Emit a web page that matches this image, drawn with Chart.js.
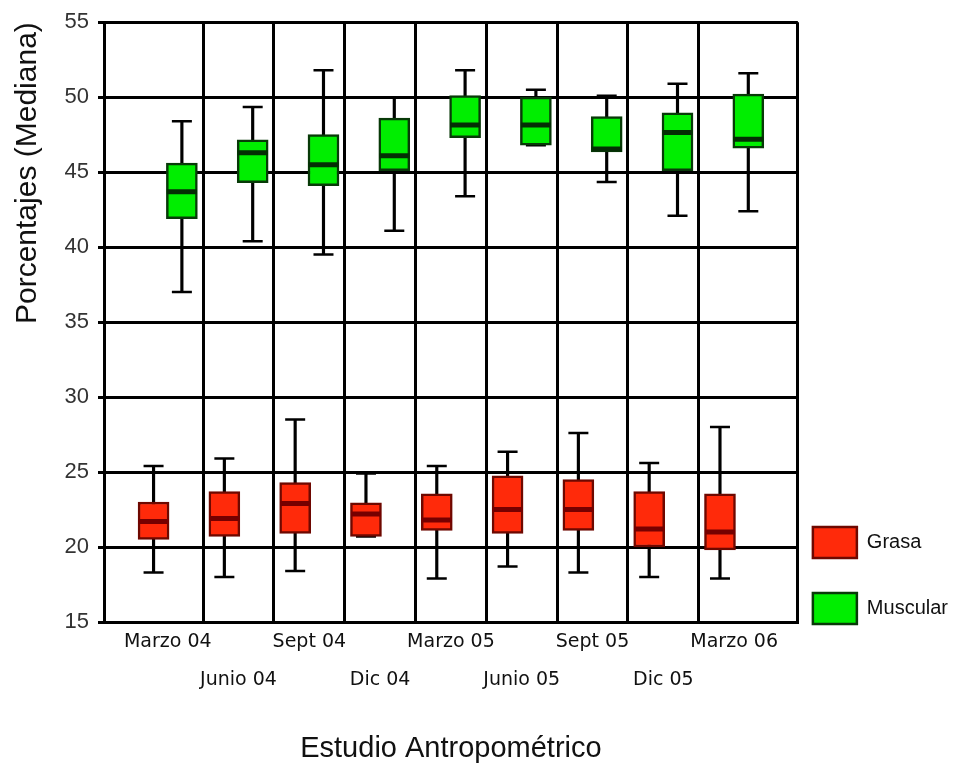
<!DOCTYPE html>
<html>
<head>
<meta charset="utf-8">
<script src="https://cdn.jsdelivr.net/npm/chart.js@4"></script>
<style>
  html, body { margin: 0; padding: 0; background: #ffffff; }
  canvas { display: block; }
</style>
</head>
<body>
<canvas id="chart" width="958" height="766"></canvas>
<script>
// Survey dates (one box pair per date)
const categories = ['Marzo 04', 'Junio 04', 'Sept 04', 'Dic 04', 'Marzo 05', 'Junio 05', 'Sept 05', 'Dic 05', 'Marzo 06'];
const yTickValues = [15, 20, 25, 30, 35, 40, 45, 50, 55];
const seriesNames = ['Grasa', 'Muscular'];

// Grasa (%): whisker ends, quartiles and median
const grasaMin = [18.3, 18.0, 18.4, 20.7, 17.9, 18.7, 18.3, 18.0, 17.9];
const grasaQ1  = [20.5, 20.7, 20.9, 20.7, 21.1, 20.9, 21.1, 20.0, 19.8];
const grasaMed = [21.7, 21.9, 22.9, 22.2, 21.8, 22.5, 22.5, 21.2, 21.0];
const grasaQ3  = [23.0, 23.7, 24.3, 22.95, 23.55, 24.75, 24.5, 23.7, 23.55];
const grasaMax = [25.4, 25.9, 28.5, 24.9, 25.4, 26.35, 27.6, 25.6, 28.0];

// Muscular (%): whisker ends, quartiles and median
const muscMin = [37.0, 40.4, 39.5, 41.1, 43.4, 46.8, 44.35, 42.1, 42.4];
const muscQ1  = [41.9, 44.3, 44.1, 45.1, 47.3, 46.8, 46.35, 45.1, 46.6];
const muscMed = [43.7, 46.3, 45.5, 46.1, 48.15, 48.15, 46.55, 47.65, 47.2];
const muscQ3  = [45.6, 47.15, 47.5, 48.6, 50.1, 50.0, 48.7, 48.95, 50.2];
const muscMax = [48.4, 49.35, 51.8, 50.0, 51.8, 50.5, 50.1, 50.9, 51.6];

// side-by-side placement of the two boxes inside each date slot
const PAIR_SHIFT = 0.2;

function boxSeries(name, min, q1, med, q3, max, shift, fill, edge, medianColor) {
  const xs = categories.map((_, i) => i + 1 + shift);
  return [
    { // whisker stem
      type: 'bar', label: name + ' rango',
      data: xs.map((x, i) => ({ x, y: [min[i], max[i]] })),
      backgroundColor: '#000000', borderWidth: 0,
      barThickness: 2.5, grouped: false, order: 4
    },
    { // whisker caps
      type: 'scatter', label: name + ' extremos',
      data: xs.flatMap((x, i) => [{ x, y: min[i] }, { x, y: max[i] }]),
      pointStyle: 'line', pointRadius: 10, pointHoverRadius: 10,
      pointBorderColor: '#000000', pointBorderWidth: 2.5, order: 3
    },
    { // interquartile box
      type: 'bar', label: name,
      data: xs.map((x, i) => ({ x, y: [q1[i], q3[i]] })),
      backgroundColor: fill, borderColor: edge, borderWidth: 2.5,
      borderSkipped: false, barThickness: 31, grouped: false, order: 2
    },
    { // median bar
      type: 'scatter', label: name + ' mediana',
      data: xs.map((x, i) => ({ x, y: med[i] })),
      pointStyle: 'line', pointRadius: 15, pointHoverRadius: 15,
      pointBorderColor: medianColor, pointBorderWidth: 5, order: 1
    }
  ];
}

const datasets = [
  ...boxSeries(seriesNames[0], grasaMin, grasaQ1, grasaMed, grasaQ3, grasaMax, -PAIR_SHIFT, '#ff2a0a', '#6e0800', '#760000'),
  ...boxSeries(seriesNames[1], muscMin, muscQ1, muscMed, muscQ3, muscMax, PAIR_SHIFT, '#00ee00', '#083a08', '#042e04')
];

Chart.defaults.font.family = "'Liberation Sans', Arial, sans-serif";

new Chart(document.getElementById('chart'), {
  type: 'bar',
  data: { datasets },
  options: {
    responsive: false,
    maintainAspectRatio: false,
    animation: false,
    devicePixelRatio: 1,
    events: [],
    layout: { padding: { top: 17, left: 0, right: 0, bottom: 0 } },
    plugins: {
      tooltip: { enabled: false },
      legend: {
        position: 'right',
        align: 'start',
        // empty heading keeps the key level with the lower boxes
        title: { display: true, text: '', padding: { top: 480.6, bottom: 0 }, font: { size: 12, lineHeight: 1.2 } },
        labels: {
          boxWidth: 44,
          boxHeight: 31,
          padding: 15,
          color: '#111111',
          font: { size: 20, lineHeight: '51px' },
          generateLabels(chart) {
            return Chart.defaults.plugins.legend.labels.generateLabels(chart)
              .filter(item => seriesNames.includes(chart.data.datasets[item.datasetIndex].label))
              .map(item => Object.assign(item, { text: [item.text] }));
          }
        }
      }
    },
    scales: {
      x: {
        type: 'linear',
        min: 0.1,
        max: 9.9,
        offset: false,
        afterBuildTicks(scale) {
          const t = [{ value: scale.min }];
          categories.forEach((_, i) => {
            t.push({ value: i + 1 });
            if (i < categories.length - 1) t.push({ value: i + 1.5 });
          });
          t.push({ value: scale.max });
          scale.ticks = t;
        },
        afterFit(scale) { scale.height = 144; },
        grid: {
          offset: false,
          color: ctx => (ctx.tick && Number.isInteger(ctx.tick.value)) ? 'rgba(0,0,0,0)' : '#000000',
          lineWidth: 3,
          drawTicks: false
        },
        border: { color: '#000000', width: 3 },
        ticks: {
          autoSkip: false,
          maxRotation: 0,
          minRotation: 0,
          padding: 1,
          color: '#111111',
          font: { family: "'DejaVu Sans', sans-serif", size: 19, lineHeight: 2 },
          callback(value) {
            if (!Number.isInteger(value)) return '';
            const i = value - 1;
            const name = categories[i];
            if (name === undefined) return '';
            return i % 2 ? ['', name] : name;
          }
        },
        title: {
          display: true,
          text: 'Estudio Antropométrico',
          color: '#111111',
          font: { size: 29 },
          padding: { top: 0, bottom: 0 }
        }
      },
      y: {
        type: 'linear',
        min: 15,
        max: 55,
        afterBuildTicks(scale) { scale.ticks = yTickValues.map(v => ({ value: v })); },
        afterFit(scale) { scale.width = 104; },
        grid: { color: '#000000', lineWidth: 3, tickLength: 6 },
        border: { color: '#000000', width: 3 },
        ticks: { padding: 9, color: '#333333', font: { size: 22 } },
        title: {
          display: true,
          text: 'Porcentajes (Mediana)',
          align: 'end',
          color: '#111111',
          font: { size: 30 },
          padding: { top: 10, bottom: 0 }
        }
      }
    }
  }
});
</script>
</body>
</html>
